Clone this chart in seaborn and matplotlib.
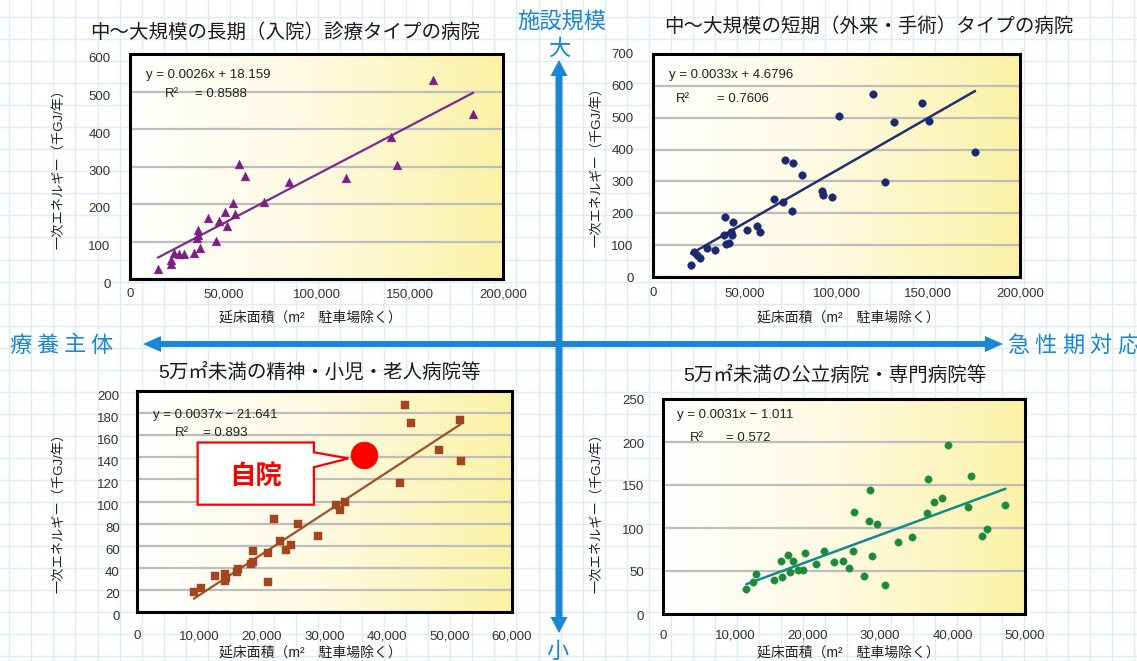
import numpy as np
import matplotlib
matplotlib.use("Agg")
import matplotlib.pyplot as plt
import matplotlib.transforms as mtransforms
import seaborn as sns
from matplotlib.colors import LinearSegmentedColormap
from matplotlib.patches import Polygon, FancyArrow
from matplotlib.ticker import FuncFormatter

sns.set_style("white")
plt.rcParams['font.family'] = ['Liberation Sans', 'Noto Sans CJK JP', 'DejaVu Sans']

W, H = 1137, 661  # 画像サイズ(px)

# ==================== データ ====================
# 中～大規模の長期（入院）診療タイプ
long_area = [162300, 184000, 140200, 143400, 115800, 85200, 58400, 61500, 71800,
             55200, 50700, 56300, 47700, 52100, 41900, 36600, 36300, 36100, 45900,
             37300, 34300, 28900, 26200, 23500, 22100, 22100, 14900]
long_energy = [530, 440, 378, 304, 270, 259, 306, 274, 205,
               204, 179, 173, 155, 142, 162, 130, 118, 110, 101,
               82, 69, 66, 66, 69, 51, 39, 26]

# 中～大規模の短期（外来・手術）タイプ
short_area = [119700, 146700, 101500, 131600, 150400, 175500, 71700, 76100, 81200,
              126300, 92000, 92900, 97300, 66200, 71000, 75700, 39400, 43600,
              51300, 56800, 58200, 38500, 42500, 42900, 40000, 41200, 33900,
              29400, 22600, 24000, 25400, 20800]
short_energy = [573, 547, 505, 487, 490, 391, 367, 357, 319,
                298, 269, 257, 250, 246, 236, 208, 189, 173,
                149, 161, 142, 131, 142, 133, 105, 107, 85,
                90, 80, 70, 60, 37]

# 5万㎡未満の精神・小児・老人病院等
care_area = [42800, 43800, 51600, 48300, 51800, 42150, 31900, 33200, 32500, 21900,
             25800, 29000, 22800, 24700, 23900, 21000, 18500, 18600, 18200, 16100,
             16000, 14100, 14000, 14300, 12400, 20900, 10300, 9100]
care_energy = [187, 171, 173.5, 147, 137, 117, 97, 100, 92, 84,
               80, 69, 64, 61, 56, 53.5, 55, 45, 43, 38.5,
               36, 34.5, 28, 30.5, 32.5, 27.5, 22, 18]

# 5万㎡未満の公立病院・専門病院等
acute_area = [39400, 36600, 42600, 28600, 38500, 37400, 42100, 47300, 26400, 36500,
              28500, 29600, 44800, 44000, 34400, 32400, 26300, 22200, 19600, 17200,
              16300, 17900, 28800, 23600, 24800, 21100, 25700, 18700, 19300, 17600,
              12900, 16400, 15300, 27800, 12400, 30600, 11500]
acute_energy = [197, 157, 160, 144, 135, 130, 125, 127, 119, 117,
                108, 105, 99, 91, 89.5, 84, 73, 73, 71, 69,
                62, 62, 67, 61, 62, 58, 54, 51, 51, 49,
                46, 43, 40, 44, 37, 34, 29]

# 自院
own_area = [36300]
own_energy = [142]

# 近似直線 (slope, intercept)
long_fit = (0.0026, 18.159)
short_fit = (0.0033, 4.6796)
care_fit = (0.0037, -21.641)
acute_fit = (0.0031, -1.011)

titles = ["中～大規模の長期（入院）診療タイプの病院",
          "中～大規模の短期（外来・手術）タイプの病院",
          "5万㎡未満の精神・小児・老人病院等",
          "5万㎡未満の公立病院・専門病院等"]
eq_texts = ["y = 0.0026x + 18.159", "y = 0.0033x + 4.6796",
            "y = 0.0037x − 21.641", "y = 0.0031x − 1.011"]
r2_texts = ["= 0.8588", "= 0.7606", "= 0.893", "= 0.572"]
ylabel = "一次エネルギー（千GJ/年）"
xlabel = "延床面積（m²　駐車場除く）"

# ==================== パネル設定 ====================
panels = [
    dict(x=long_area, y=long_energy, fit=long_fit, marker='^', s=40,
         mc='#7B1E86', lc='#7E2A8E', lw=1.6,
         box=(130, 54, 503, 279), xlim=200000, xstep=50000, ylim=600, ystep=100,
         title_xy=(285, 32), ylab_xy=(59, 166), xlab_xy=(310, 318),
         eq_xy=(0.043, 0.907), r2_xy=(0.093, 0.822), r2v_x=0.173,
         xpad=6.5, ypad=14, yshift=4),
    dict(x=short_area, y=short_energy, fit=short_fit, marker='o', s=30,
         mc='#1C2870', lc='#22306E', lw=1.8,
         box=(653, 54, 1020, 277), xlim=200000, xstep=50000, ylim=700, ystep=100,
         title_xy=(869, 26), ylab_xy=(597, 164), xlab_xy=(848, 318),
         eq_xy=(0.044, 0.906), r2_xy=(0.062, 0.797), r2v_x=0.175,
         xpad=7.5, ypad=14, yshift=0),
    dict(x=care_area, y=care_energy, fit=care_fit, marker='s', s=26,
         mc='#A3461F', lc='#A0502A', lw=1.6,
         box=(137, 391, 512, 612), xlim=60000, xstep=10000, ylim=200, ystep=20,
         title_xy=(320, 372), ylab_xy=(59, 510), xlab_xy=(310, 653),
         eq_xy=(0.043, 0.893), r2_xy=(0.101, 0.81), r2v_x=0.175,
         xpad=13, ypad=12.5, yshift=4),
    dict(x=acute_area, y=acute_energy, fit=acute_fit, marker='o', s=28,
         mc='#1C8A3C', lc='#138B8E', lw=1.8,
         box=(663, 399, 1025, 614), xlim=50000, xstep=10000, ylim=250, ystep=50,
         title_xy=(835, 375), ylab_xy=(597, 510), xlab_xy=(848, 653),
         eq_xy=(0.038, 0.924), r2_xy=(0.073, 0.817), r2v_x=0.174,
         xpad=11.5, ypad=13.5, yshift=1),
]

BLUE = '#1A86D6'
bg_cmap = LinearSegmentedColormap.from_list('bg', ['#FFFFFF', '#FEFAE0', '#FBF2A6'])

fig = plt.figure(figsize=(W / 100, H / 100), dpi=100)
fig.patch.set_facecolor('white')

# ---- 背景（方眼紙 + 矢印）: ピクセル座標 ----
ax_bg = fig.add_axes([0, 0, 1, 1], zorder=0)
ax_bg.set_xlim(0, W)
ax_bg.set_ylim(H, 0)
ax_bg.axis('off')
for gx in np.arange(9.3, W, 22.05):
    ax_bg.axvline(gx, color='#DCECFA', lw=1.0, zorder=1)
for gy in np.arange(17, H, 22.05):
    ax_bg.axhline(gy, color='#DCECFA', lw=1.0, zorder=1)

# 縦矢印（施設規模 大⇔小）と横矢印（療養主体 ⇔ 急性期対応）
arrow_kw = dict(length_includes_head=True, color=BLUE, lw=0, zorder=3)
ax_bg.add_patch(FancyArrow(559, 344, 0, 60 - 344, width=7, head_width=17, head_length=16, **arrow_kw))
ax_bg.add_patch(FancyArrow(559, 344, 0, 633 - 344, width=7, head_width=17, head_length=16, **arrow_kw))
ax_bg.add_patch(FancyArrow(559, 344, 143 - 559, 0, width=6, head_width=16, head_length=18, **arrow_kw))
ax_bg.add_patch(FancyArrow(559, 344, 1003 - 559, 0, width=6, head_width=16, head_length=18, **arrow_kw))


def spaced_text(ax, text, x0, y, step, **kw):
    for i, ch in enumerate(text):
        ax.text(x0 + i * step, y, ch, ha='center', va='center', **kw)


qkw = dict(color=BLUE, fontsize=16, family=['Noto Sans CJK JP', 'DejaVu Sans'], zorder=4)
ax_bg.text(562, 22, "施設規模", ha='center', va='center', **qkw)
ax_bg.text(559, 48, "大", ha='center', va='center', **qkw)
ax_bg.text(557, 651, "小", ha='center', va='center', **qkw)
spaced_text(ax_bg, "療養主体", 20, 345, 27.3, **qkw)
spaced_text(ax_bg, "急性期対応", 1018, 345, 27.5, **qkw)

# ---- 4つの散布図 ----
axes = []
for p, title, eq, r2 in zip(panels, titles, eq_texts, r2_texts):
    x0, y0, x1, y1 = p['box']
    ax = fig.add_axes([x0 / W, 1 - y1 / H, (x1 - x0) / W, (y1 - y0) / H], zorder=1)
    axes.append(ax)

    # 背景グラデーション
    ax.imshow(np.linspace(0, 1, 256).reshape(1, -1), cmap=bg_cmap, aspect='auto',
              extent=(0, p['xlim'], 0, p['ylim']), zorder=0, interpolation='bilinear')

    slope, intercept = p['fit']
    fx = np.array([min(p['x']), max(p['x'])])
    sns.lineplot(x=fx, y=slope * fx + intercept, color=p['lc'], lw=p['lw'], ax=ax, zorder=3)
    sns.scatterplot(x=p['x'], y=p['y'], marker=p['marker'], s=p['s'], color=p['mc'],
                    edgecolor=p['mc'], linewidth=0.3, ax=ax, zorder=4, legend=False)

    ax.set_xlim(0, p['xlim'])
    ax.set_ylim(0, p['ylim'])
    ax.set_xticks(np.arange(0, p['xlim'] + 1, p['xstep']))
    ax.set_yticks(np.arange(0, p['ylim'] + 1, p['ystep']))
    ax.xaxis.set_major_formatter(FuncFormatter(lambda v, _: f"{v:,.0f}"))
    ax.grid(axis='y', color='#BDBDBD', lw=1.6, zorder=0.5)
    ax.set_axisbelow(True)
    ax.tick_params(axis='x', length=0, pad=p['xpad'], labelsize=9.5, labelcolor='#333333')
    ax.tick_params(axis='y', length=0, pad=p['ypad'], labelsize=9.5, labelcolor='#333333')
    off = mtransforms.ScaledTranslation(0, -p['yshift'] / 100, fig.dpi_scale_trans)
    for lab in ax.get_yticklabels():
        lab.set_transform(lab.get_transform() + off)
    for sp in ax.spines.values():
        sp.set_visible(True)
        sp.set_color('black')
        sp.set_linewidth(2.2)
    ax.set_xlabel('')
    ax.set_ylabel('')

    # 回帰式
    ax.text(p['eq_xy'][0], p['eq_xy'][1], eq, transform=ax.transAxes, fontsize=9.5,
            color='#222222', va='center', ha='left', zorder=6)
    ax.text(p['r2_xy'][0], p['r2_xy'][1], "R²", transform=ax.transAxes, fontsize=9.5,
            color='#222222', va='center', ha='left', zorder=6)
    ax.text(p['r2v_x'], p['r2_xy'][1], r2, transform=ax.transAxes, fontsize=9.5,
            color='#222222', va='center', ha='left', zorder=6)

    # タイトル・軸ラベル
    ax_bg.text(*p['title_xy'], title, ha='center', va='center', fontsize=14, color='#1A1A1A', zorder=4)
    ax_bg.text(*p['ylab_xy'], ylabel, ha='center', va='center', rotation=90,
               fontsize=9.5, color='#222222', zorder=4)
    ax_bg.text(*p['xlab_xy'], xlabel, ha='center', va='center', fontsize=10, color='#222222', zorder=4)

# ---- 自院の吹き出し（左下パネル） ----
ax_c = axes[2]
cx0, cx1, cy_top, cy_bot = 9700, 28300, 153.4, 97.1
callout = Polygon([(cx0, cy_top), (cx1, cy_top), (cx1, 144.5), (33800, 139),
                   (cx1, 131), (cx1, cy_bot), (cx0, cy_bot)],
                  closed=True, fc='white', ec='#FF0000', lw=1.6, zorder=5)
ax_c.add_patch(callout)
ax_c.text((cx0 + cx1) / 2, (cy_top + cy_bot) / 2 - 3, "自院", ha='center', va='center',
          fontsize=19, color='#FF0000', fontweight='bold', zorder=6,
          family=['Noto Sans CJK JP', 'DejaVu Sans'])
sns.scatterplot(x=own_area, y=own_energy, s=370, color='#FF0000', edgecolor='#E00000',
                linewidth=0.5, ax=ax_c, zorder=7, legend=False)

fig.savefig("out.png", dpi=100)
